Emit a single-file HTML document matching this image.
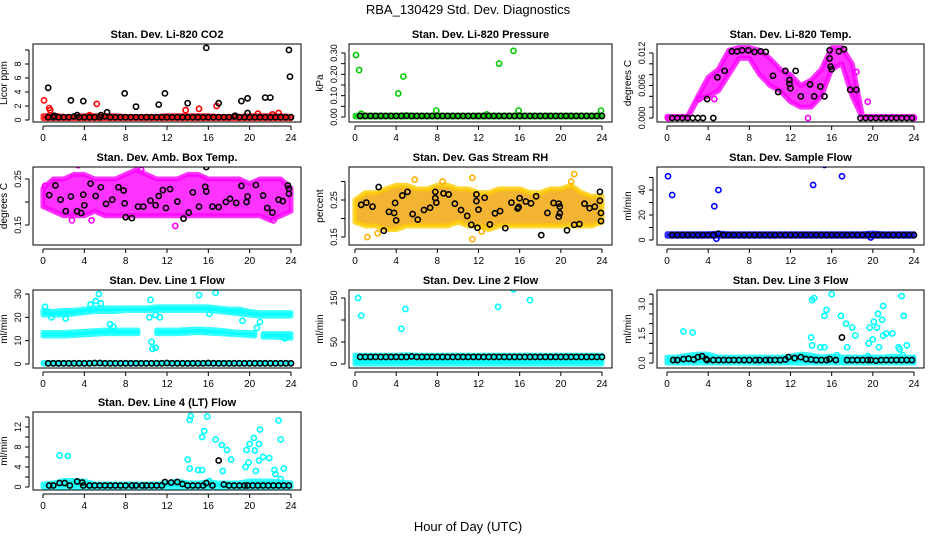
<!DOCTYPE html>
<html><head><meta charset="utf-8"><style>
body{margin:0;background:#fff}
svg{display:block;font-family:"Liberation Sans",sans-serif}
</style></head><body>
<svg id="c" width="936" height="540" viewBox="0 0 936 540">
<text x="468" y="14" text-anchor="middle" font-size="13">RBA_130429  Std. Dev. Diagnostics</text>
<text x="468" y="531" text-anchor="middle" font-size="13">Hour of Day (UTC)</text>
</svg>
<script>
const hrs=[0.5,1,1.5,2,2.5,3,3.5,4,4.5,5,5.5,6,6.5,7,7.5,8,8.5,9,9.5,10,10.5,11,11.5,12,12.5,13,13.5,14,14.5,15,15.5,16,16.5,17,17.5,18,18.5,19,19.5,20,20.5,21,21.5,22,22.5,23,23.5,24];
const bandHours=[0,1,2,3,4,5,6,7,8,9,10,11,12,13,14,15,16,17,18,19,20,21,22,23,24];
// CO2
const co2Black=[0.4,0.4,0.4,0.4,0.4,0.5,0.4,0.4,0.4,0.4,0.4,0.5,0.4,0.4,0.4,0.4,0.4,0.4,0.4,0.4,0.4,0.4,0.4,0.4,0.4,0.4,0.4,0.4,0.4,0.4,0.4,0.4,0.4,0.4,0.4,0.4,0.5,0.4,0.4,0.4,0.4,0.4,0.4,0.4,0.4,0.4,0.4,0.4];
const co2OutX=[0.5,2.7,3.9,6.2,7.9,9,11.2,11.8,14,15.8,17,19.2,19.8,21.5,22,23.8,23.9,1.1,3.3,5.6,18.6,19.8];
const co2OutY=[4.6,2.8,2.7,1.1,3.8,1.9,2.2,3.8,2.4,10.3,2.4,2.7,3.1,3.2,3.2,10.0,6.2,0.6,0.7,0.7,0.6,1.0];
const co2RedX=[0.1,0.6,0.7,5.2,13.8,15.1,16.8,20.8,22.8,4.5,22.2];
const co2RedY=[2.8,1.7,1.4,2.3,1.4,1.6,2.0,0.9,1.0,0.7,0.8];
const co2Lo=[0.2,0.2,0.2,0.2,0.2,0.2,0.2,0.2,0.2,0.2,0.2,0.2,0.2,0.2,0.2,0.2,0.2,0.2,0.2,0.2,0.2,0.2,0.2,0.2,0.2];
const co2Hi=[0.6,0.7,0.5,0.5,0.6,0.6,0.6,0.6,0.5,0.5,0.5,0.5,0.6,0.6,0.6,0.6,0.6,0.5,0.5,0.5,0.6,0.6,0.6,0.6,0.5];
// Pressure
const presBlack=[0.005,0.005,0.005,0.005,0.005,0.005,0.005,0.005,0.005,0.006,0.005,0.005,0.005,0.005,0.005,0.005,0.005,0.005,0.005,0.005,0.005,0.005,0.005,0.005,0.005,0.005,0.005,0.005,0.005,0.005,0.005,0.005,0.005,0.005,0.005,0.005,0.005,0.005,0.005,0.005,0.005,0.005,0.005,0.005,0.005,0.005,0.005,0.005];
const presGreenX=[0.1,0.4,4.2,4.7,7.9,14,15.4,15.9,23.9,0.6,12.8];
const presGreenY=[0.29,0.22,0.11,0.19,0.03,0.25,0.31,0.03,0.03,0.015,0.012];
const presLo=[0,0,0,0,0,0,0,0,0,0,0,0,0,0,0,0,0,0,0,0,0,0,0,0,0];
const presHi=[0.008,0.008,0.008,0.008,0.008,0.01,0.008,0.008,0.008,0.008,0.008,0.008,0.008,0.008,0.008,0.008,0.008,0.008,0.008,0.008,0.008,0.008,0.008,0.008,0.008];
// Li-820 temp
const tempLo=[0,0,0,0.0035,0.004,0.005,0.008,0.011,0.011,0.008,0.006,0.005,0.003,0.002,0.002,0.004,0.009,0.010,0.004,0,0,0,0,0,0];
const tempHi=[0.0003,0.0003,0.0003,0.004,0.0075,0.009,0.0125,0.013,0.013,0.0125,0.011,0.009,0.008,0.006,0.007,0.009,0.013,0.013,0.010,0.0003,0.0003,0.0003,0.0003,0.0003,0.0003];
const tempMagX=[13.7,19.5,18.4,3.1,4.6,0.1,24];
const tempMagY=[0,0.003,0.0085,0.0035,0.0035,0,0];
const tempBlackX=[0.5,1,1.5,2,2.5,3,3.5,4.5,3.9,4.9,5.6,6.3,6.8,7.3,7.9,8.5,9.1,9.6,10.3,10.8,11.5,11.9,11.9,12,12.5,13,13.9,14.3,14.9,15.3,15.8,15.8,15.9,16,16.7,17.2,17.8,18.4,18.8,19.3,19.8,20.3,20.8,21.3,21.8,22.3,22.8,23.3,23.8];
const tempBlackY=[0,0,0,0,0,0,0,0,0.0035,0.0075,0.0087,0.0123,0.0123,0.0125,0.0125,0.0122,0.0123,0.0122,0.0078,0.0048,0.0087,0.0070,0.0063,0.0055,0.0087,0.004,0.0062,0.004,0.0058,0.004,0.0125,0.011,0.0095,0.009,0.0123,0.0127,0.0052,0.0052,0,0,0,0,0,0,0,0,0,0,0];
// Amb box temp
const ambLo=[0.19,0.18,0.17,0.17,0.17,0.18,0.17,0.17,0.17,0.17,0.17,0.17,0.17,0.17,0.17,0.17,0.17,0.17,0.17,0.17,0.17,0.17,0.16,0.17,0.18];
const ambHi=[0.23,0.25,0.25,0.26,0.26,0.25,0.25,0.25,0.26,0.27,0.26,0.25,0.25,0.25,0.26,0.26,0.25,0.25,0.25,0.25,0.24,0.25,0.25,0.25,0.23];
const ambMagX=[21.6,12.8,3.4,9.5,2.8,4.7,0.2,22.3];
const ambMagY=[0.10,0.148,0.28,0.27,0.16,0.16,0.235,0.16];
const ambBlackX=[0.6,1.2,1.7,2.2,2.7,3.3,3.7,3.9,4,4.6,5.1,5.6,6.1,6.7,7.3,7.8,7.9,8,8.6,9.2,9.7,10.4,10.9,11.2,11.6,11.9,12.3,13,13.6,14.1,14.5,15.1,15.7,15.8,15.8,16.4,17,17.7,18.1,18.7,19.2,19.7,19.8,20.6,21.3,21.7,22.2,22.8,23.2,23.7,23.8,23.8];
const ambBlackY=[0.215,0.236,0.205,0.18,0.212,0.18,0.176,0.216,0.193,0.24,0.213,0.232,0.196,0.205,0.232,0.225,0.197,0.167,0.165,0.19,0.19,0.203,0.193,0.213,0.226,0.187,0.228,0.201,0.164,0.177,0.221,0.19,0.233,0.223,0.276,0.19,0.189,0.2,0.207,0.198,0.235,0.2,0.212,0.237,0.214,0.187,0.177,0.205,0.202,0.236,0.229,0.218];
// RH
const rhLo=[0.19,0.18,0.18,0.17,0.17,0.18,0.18,0.18,0.18,0.18,0.19,0.18,0.18,0.17,0.18,0.18,0.18,0.18,0.18,0.18,0.18,0.18,0.18,0.18,0.19];
const rhHi=[0.25,0.27,0.27,0.28,0.29,0.29,0.28,0.28,0.29,0.29,0.28,0.28,0.27,0.27,0.28,0.28,0.28,0.27,0.27,0.28,0.28,0.29,0.27,0.26,0.26];
const rhOrX=[11.4,21.3,11.4,1.2,8.5,5.8,21,2.2,12.3];
const rhOrY=[0.144,0.32,0.31,0.15,0.30,0.305,0.30,0.16,0.165];
const rhBlackX=[0.6,1.1,1.7,2.3,2.8,3.3,3.8,3.9,4,4.6,5.1,5.6,6.1,6.7,7.3,7.8,7.8,7.9,8.6,9.1,9.7,10.3,10.9,11.3,11.8,11.8,11.9,12,12.6,13.1,13.6,14.1,14.6,15.2,15.8,15.9,16,16.6,17.1,17.6,18.1,18.7,19.3,19.8,19.8,19.9,19.9,20.6,21.3,21.8,22.3,22.8,23.3,23.8,23.8,23.9,23.9];
const rhBlackY=[0.237,0.243,0.232,0.285,0.167,0.218,0.215,0.242,0.195,0.262,0.272,0.212,0.197,0.223,0.229,0.272,0.255,0.243,0.268,0.265,0.24,0.223,0.207,0.183,0.265,0.247,0.175,0.224,0.256,0.184,0.214,0.22,0.174,0.243,0.227,0.231,0.255,0.246,0.241,0.26,0.155,0.215,0.242,0.24,0.205,0.214,0.232,0.168,0.183,0.185,0.24,0.228,0.232,0.272,0.248,0.215,0.193];
// Sample flow
const sfBlack=[4,4,4,4,4,4,4,4,4,5,4,4,4,4,4,4,4,4,4,4,4,4,4,4,4,4,4,4,4,4,4,4,4,4,4,4,4,4,4,4,4,4,4,4,4,4,4,4];
const sfLo=[3,3,3,3,3,3,3,3,3,3,3,3,3,3,3,3,3,3,3,3,3,3,3,3,3];
const sfHi=[5,5,5,5,5,5.5,5,5,5,5,5,5,5,5,5,5,5,5,5,5,5.5,5,5,5,5];
const sfBlueX=[0.1,0.5,4.6,5,14.2,15.3,17,4.8,19.8];
const sfBlueY=[51,36,27,40,44,60,51,1,2];
// Line 1
const l1Black=[0.3,0.3,0.3,0.3,0.3,0.3,0.3,0.3,0.3,0.4,0.4,0.3,0.3,0.3,0.3,0.3,0.3,0.3,0.3,0.3,0.3,0.3,0.3,0.4,0.3,0.3,0.3,0.3,0.3,0.3,0.3,0.4,0.3,0.3,0.3,0.3,0.3,0.3,0.3,0.3,0.3,0.3,0.3,0.3,0.3,0.3,0.3,0.3];
const l1UpLo=[21,21,21,21.5,22,22.5,22.5,22.5,23,23,23,23,23,23,23,23,23,22.5,22,21.5,21,20.5,20.5,20.5,20.5];
const l1UpHi=[23,22.5,23,23,23.5,24,24,24,24,24,24,24.5,24.5,24.5,24.5,24.5,24.5,24,23.5,23.5,22.5,22,22,22,22];
const l1MidH=[0,2,4,6,8,9.2];
const l1MidLo=[12,12,12.5,13,13,13];
const l1MidHi=[13.5,13.5,14,14.5,14.5,14.5];
const l1MidH2=[11,13,15,17,19,20.5];
const l1MidLo2=[13,13,13.5,13,12.5,12];
const l1MidHi2=[14.5,14.5,15,14.5,13.5,13.5];
const l1MidH3=[21.3,22.5,24];
const l1MidLo3=[11.5,11.5,11];
const l1MidHi3=[13,13,13];
const l1CyX=[0.2,0.8,2.2,4.6,5.1,5.4,5.6,6.5,6.8,10.3,10.4,10.5,10.6,10.9,10.9,11.3,15.1,16.1,16.7,19.3,20.7,21,23.4];
const l1CyY=[24.5,20,19.5,25.5,27,30,26,17,16,20,27.5,9.5,6.5,21,7,20,29.5,21.5,30.5,18.5,15.5,18,11];
const zeroLo=[0,0,0,0,0,0,0,0,0,0,0,0,0,0,0,0,0,0,0,0,0,0,0,0,0];
const l1BotHi=[0.6,0.6,0.6,0.6,0.6,0.6,0.6,0.6,0.6,0.6,0.6,0.6,0.6,0.6,0.6,0.6,0.6,0.6,0.6,0.6,0.6,0.6,0.6,0.6,0.6];
// Line 2
const l2Black=[16,16,16,16,16,16,16,16,16,16,17,16,16,16,16,16,16,16,16,16,16,16,16,16,16,16,16,16,16,16,16,16,16,16,16,16,16,16,16,16,16,16,16,16,16,16,16,16];
const l2Lo=[10,10,10,10,10,10,10,10,10,10,10,10,10,10,10,10,10,10,10,10,10,10,10,10,10];
const l2Hi=[20,20,20,20,20,21,20,20,20,20,20,20,20,20,20,20,20,20,20,20,20,20,20,20,20];
const l2CyX=[0.3,0.6,4.5,4.9,13.9,15.4,17];
const l2CyY=[150,110,80,125,130,170,145];
const l2BotHi=[4,4,4,4,4,4,4,4,4,4,4,4,4,4,4,4,4,4,4,4,4,4,4,4,4];
// Line 3
const l3BlackX=[0.6,1,1.6,2.1,2.6,3,3.4,3.8,3.9,4.5,5,5.5,6,6.5,7,7.5,8,8.6,9,9.6,10,10.5,11,11.5,11.8,12.4,13,13.5,14,14.5,15,15.5,15.8,16.4,17,17.5,18,18.5,19,19.5,19.8,20.3,20.8,21.3,21.8,22.3,22.8,23.3,23.8];
const l3BlackY=[0.15,0.15,0.2,0.22,0.18,0.3,0.35,0.2,0.15,0.15,0.15,0.15,0.15,0.15,0.15,0.15,0.15,0.15,0.15,0.15,0.15,0.15,0.15,0.18,0.3,0.25,0.3,0.2,0.18,0.15,0.15,0.15,0.2,0.15,1.3,0.15,0.15,0.15,0.15,0.15,0.15,0.12,0.15,0.15,0.15,0.15,0.15,0.15,0.15];
const l3Hi=[0.3,0.3,0.4,0.45,0.45,0.3,0.3,0.3,0.3,0.3,0.3,0.3,0.35,0.45,0.4,0.3,0.35,0.3,0.3,0.3,0.3,0.3,0.35,0.3,0.3];
const l3CyX=[1.6,2.5,14,14.1,14.3,14.1,14.9,15.3,15.3,15.5,16,16.5,16.9,17.4,17.5,18,18.3,19.6,19.7,20,20.1,20.4,20.5,20.6,20.9,21,21,21.3,21.9,22.5,22.6,22.8,23,23.3,22.9,19.5];
const l3CyY=[1.6,1.55,1.3,3.2,3.3,0.9,0.8,0.8,2.4,2.7,3.5,0.4,2.4,2.0,0.8,1.8,1.4,1.0,1.8,1.2,2.1,1.8,2.5,0.8,2.2,2.9,1.4,1.5,1.5,0.8,0.7,3.4,2.4,0.9,0.4,0.35];
// Line 4
const l4BlackX=[0.6,1,1.6,2.1,2.6,3.3,3.8,3.9,4.5,5,5.5,6,6.5,7,7.5,8,8.6,9,9.6,10,10.5,11,11.5,11.8,12.4,13,13.5,14,14.5,15,15.5,15.8,16.4,17,17.5,18,18.5,19,19.5,19.8,20.3,20.8,21.3,21.8,22.3,22.8,23.3,23.8];
const l4BlackY=[0.3,0.3,0.8,0.8,0.3,1.1,0.9,0.3,0.3,0.3,0.3,0.3,0.3,0.3,0.3,0.3,0.3,0.3,0.3,0.3,0.3,0.3,0.3,1.0,0.9,1.0,0.6,0.3,0.3,0.3,0.3,0.8,0.3,5.3,0.5,0.3,0.3,0.3,0.3,0.3,0.3,0.3,0.3,0.3,0.3,0.3,0.3,0.3];
const l4Hi=[0.6,0.8,1.3,1.3,1.2,0.6,0.6,0.6,0.6,0.6,0.6,0.6,0.8,1.2,0.8,0.8,1.0,0.8,0.8,0.8,1.2,1.2,1.2,1.0,0.8];
const l4CyX=[1.6,2.4,14,14.2,14.2,14.3,15,15.4,15.4,15.6,15.9,16.1,16.7,17.3,17.4,17.8,18.2,19.6,19.7,19.9,20,20.4,20.5,20.6,20.9,21,20.9,21.3,21.9,22.4,22.5,22.8,23,23.3,23];
const l4CyY=[6.3,6.2,5.5,3.7,13.4,14.2,3.4,3.4,10,11.2,14.1,1.2,9.5,8.4,3.2,7.4,5.5,4,7.4,4.9,8.6,9.8,7.3,3.2,8.6,11.5,5.3,6,5.8,3.4,2.6,13.3,9.5,3.7,1.6];

const NS='http://www.w3.org/2000/svg';
const svg=document.getElementById('c');
const COLS=[{bl:33,br:301,x0:43,x24:291},{bl:349,br:612,x0:355,x24:602},{bl:657,br:924,x0:667,x24:914}];
const ROWS=[{bt:44,bb:122},{bt:167,bb:245},{bt:290,bb:368},{bt:412,bb:490}];
function mk(tag,attrs,parent){const e=document.createElementNS(NS,tag);for(const k in attrs)e.setAttribute(k,attrs[k]);(parent||svg).appendChild(e);return e;}
function panel(o){
  const C=COLS[o.col],R=ROWS[o.row];
  const g=mk('g',{});
  
  
  const xs=v=>C.x0+(v/24)*(C.x24-C.x0);
  const ys=v=>o.p0+(v-o.v0)*(o.p1-o.p0)/(o.v1-o.v0);
  const t=mk('text',{x:(C.bl+C.br)/2,y:R.bt-6,'text-anchor':'middle','font-size':'11','font-weight':'bold'},g);
  t.textContent=o.title;
  
  
  const clip='cl'+o.col+o.row;
  const cp=mk('clipPath',{id:clip},g);mk('rect',{x:C.bl,y:R.bt,width:C.br-C.bl,height:R.bb-R.bt},cp);
  const plot=mk('g',{'clip-path':'url(#'+clip+')'},g);
  
  
  (o.bands||[]).forEach(b=>{
    let pts=b.h.map((h,i)=>xs(h)+','+ys(b.hi[i]));
    for(let i=b.h.length-1;i>=0;i--)pts.push(xs(b.h[i])+','+ys(b.lo[i]));
    const p=mk('polygon',{points:pts.join(' '),fill:b.fill||b.c,'fill-opacity':0.8,stroke:b.c,'stroke-opacity':0.8,'stroke-width':5,'stroke-linejoin':'round'},plot);
    
    
  });
  (o.series||[]).forEach(s=>{
    s.x.forEach((xv,i)=>{
      const c=mk('circle',{cx:xs(xv),cy:ys(s.y[i]),r:2.6,fill:'none',stroke:s.c,'stroke-width':1.6},plot);
      
      
    });
  });
  mk('rect',{x:C.bl,y:R.bt,width:C.br-C.bl,height:R.bb-R.bt,fill:'none',stroke:'#000','stroke-width':1},g);
  const ax=mk('g',{stroke:'#000','stroke-width':1},g);
  
  
  const ay0=R.bb+4;
  mk('line',{x1:xs(0),x2:xs(24),y1:ay0,y2:ay0},ax);
  [0,4,8,12,16,20,24].forEach(v=>{
    mk('line',{x1:xs(v),x2:xs(v),y1:ay0,y2:ay0+4},ax);
    const l=mk('text',{x:xs(v),y:ay0+15,'text-anchor':'middle','font-size':'10',stroke:'none'},g);
    l.textContent=v;
    
    
  });
  const ayg=mk('g',{stroke:'#000','stroke-width':1},g);
  
  
  const axx=C.bl-4;
  mk('line',{x1:axx,x2:axx,y1:ys(o.ticks[0]),y2:ys(o.ticks[o.ticks.length-1])},ayg);
  o.ticks.forEach(v=>mk('line',{x1:axx,x2:axx-4,y1:ys(v),y2:ys(v)},ayg));
  o.labels.forEach((v,i)=>{
    const yy=ys(v);
    const l=mk('text',{x:axx-8,y:yy,'text-anchor':'middle','font-size':'9',transform:'rotate(-90 '+(axx-8)+' '+yy+')'},g);
    l.textContent=o.labelText[i];
    
    
  });
  const ym=(R.bt+R.bb)/2,yx=C.bl-(o.ylx||26);
  const yl=mk('text',{x:yx,y:ym,'text-anchor':'middle','font-size':'10',transform:'rotate(-90 '+yx+' '+ym+')'},g);
  yl.textContent=o.ylabel;
  
  
}
const K='#000',RED='#ff0000',GR='#00cc00',MG='#ff00ff',CY='#00ffff',BL='#0000ff';
panel({name:'panel-co2',col:0,row:0,title:'Stan. Dev. Li-820 CO2',ylabel:'Licor ppm',v0:0,p0:120,v1:8,p1:64,ticks:[0,2,4,6,8,10],labels:[0,2,4,6,8],labelText:['0','2','4','6','8'],
 bands:[{h:bandHours,lo:co2Lo,hi:co2Hi,c:RED}],
 series:[{x:co2RedX,y:co2RedY,c:RED},{x:hrs,y:co2Black,c:K},{x:co2OutX,y:co2OutY,c:K}]});
panel({name:'panel-pressure',col:1,row:0,title:'Stan. Dev. Li-820 Pressure',ylabel:'kPa',v0:0,p0:117,v1:0.3,p1:53,ticks:[0,0.05,0.1,0.15,0.2,0.25,0.3],labels:[0,0.1,0.2,0.3],labelText:['0.00','0.10','0.20','0.30'],
 bands:[{h:bandHours,lo:presLo,hi:presHi,c:GR}],
 series:[{x:presGreenX,y:presGreenY,c:GR},{x:hrs,y:presBlack,c:K}]});
panel({name:'panel-li820-temp',col:2,row:0,title:'Stan. Dev. Li-820 Temp.',ylabel:'degrees C',v0:0,p0:118,v1:0.012,p1:53,ticks:[0,0.002,0.004,0.006,0.008,0.01,0.012],labels:[0,0.006,0.012],labelText:['0.000','0.006','0.012'],
 bands:[{h:bandHours,lo:tempLo,hi:tempHi,c:MG}],
 series:[{x:tempMagX,y:tempMagY,c:MG},{x:tempBlackX,y:tempBlackY,c:K}]});
panel({name:'panel-amb-box-temp',col:0,row:1,title:'Stan. Dev. Amb. Box Temp.',ylabel:'degrees C',v0:0.15,p0:225,v1:0.25,p1:179,ticks:[0.15,0.2,0.25],labels:[0.15,0.25],labelText:['0.15','0.25'],
 bands:[{h:bandHours,lo:ambLo,hi:ambHi,c:MG}],
 series:[{x:ambMagX,y:ambMagY,c:MG},{x:ambBlackX,y:ambBlackY,c:K}]});
panel({name:'panel-gas-stream-rh',col:1,row:1,title:'Stan. Dev. Gas Stream RH',ylabel:'percent',v0:0.15,p0:237,v1:0.25,p1:200,ticks:[0.15,0.2,0.25,0.3],labels:[0.15,0.25],labelText:['0.15','0.25'],
 bands:[{h:bandHours,lo:rhLo,hi:rhHi,c:'#ffcc00',fill:'#f0a000'}],
 series:[{x:rhOrX,y:rhOrY,c:'#ffb000'},{x:rhBlackX,y:rhBlackY,c:K}]});
panel({name:'panel-sample-flow',col:2,row:1,title:'Stan. Dev. Sample Flow',ylabel:'ml/min',v0:0,p0:240,v1:40,p1:190,ticks:[0,10,20,30,40,50],labels:[0,20,40],labelText:['0','20','40'],
 bands:[{h:bandHours,lo:sfLo,hi:sfHi,c:BL}],
 series:[{x:sfBlueX,y:sfBlueY,c:BL},{x:hrs,y:sfBlack,c:K}]});
panel({name:'panel-line1-flow',col:0,row:2,title:'Stan. Dev. Line 1 Flow',ylabel:'ml/min',v0:0,p0:364,v1:30,p1:294,ticks:[0,10,20,30],labels:[0,10,20,30],labelText:['0','10','20','30'],
 bands:[{h:bandHours,lo:l1UpLo,hi:l1UpHi,c:CY},{h:l1MidH,lo:l1MidLo,hi:l1MidHi,c:CY},{h:l1MidH2,lo:l1MidLo2,hi:l1MidHi2,c:CY},{h:l1MidH3,lo:l1MidLo3,hi:l1MidHi3,c:CY},{h:bandHours,lo:zeroLo,hi:l1BotHi,c:CY}],
 series:[{x:l1CyX,y:l1CyY,c:CY},{x:hrs,y:l1Black,c:K}]});
panel({name:'panel-line2-flow',col:1,row:2,title:'Stan. Dev. Line 2 Flow',ylabel:'ml/min',v0:0,p0:364,v1:150,p1:298,ticks:[0,50,100,150],labels:[0,50,150],labelText:['0','50','150'],
 bands:[{h:bandHours,lo:l2Lo,hi:l2Hi,c:CY},{h:bandHours,lo:zeroLo,hi:l2BotHi,c:CY}],
 series:[{x:l2CyX,y:l2CyY,c:CY},{x:hrs,y:l2Black,c:K}]});
panel({name:'panel-line3-flow',col:2,row:2,title:'Stan. Dev. Line 3 Flow',ylabel:'ml/min',v0:0,p0:363,v1:3,p1:304,ticks:[0,0.5,1,1.5,2,2.5,3,3.5],labels:[0,1.5,3],labelText:['0.0','1.5','3.0'],
 bands:[{h:bandHours,lo:zeroLo,hi:l3Hi,c:CY}],
 series:[{x:l3CyX,y:l3CyY,c:CY},{x:l3BlackX,y:l3BlackY,c:K}]});
panel({name:'panel-line4-flow',col:0,row:3,title:'Stan. Dev. Line 4 (LT) Flow',ylabel:'ml/min',v0:0,p0:487,v1:12,p1:427,ticks:[0,2,4,6,8,10,12,14],labels:[0,4,8,12],labelText:['0','4','8','12'],
 bands:[{h:bandHours,lo:zeroLo,hi:l4Hi,c:CY}],
 series:[{x:l4CyX,y:l4CyY,c:CY},{x:l4BlackX,y:l4BlackY,c:K}]});
</script>
</body></html>
